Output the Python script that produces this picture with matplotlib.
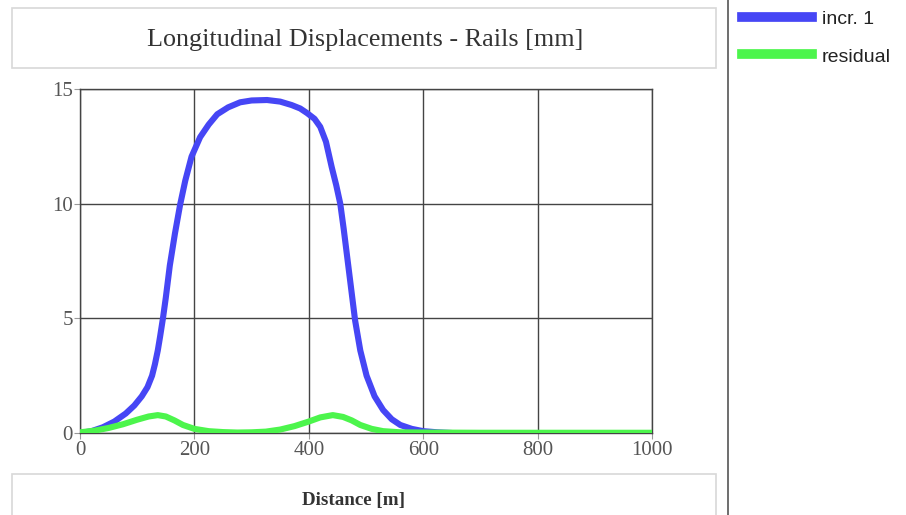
import matplotlib
matplotlib.use("Agg")
import matplotlib.pyplot as plt
from matplotlib.patches import Rectangle
from matplotlib.lines import Line2D

title = "Longitudinal Displacements - Rails [mm]"
xlabel = "Distance [m]"
series_names = ["incr. 1", "residual"]
x_ticks = [0, 200, 400, 600, 800, 1000]
y_ticks = [0, 5, 10, 15]

incr_x = [0, 20, 40, 60, 80, 95, 108, 118, 126, 131, 136, 140, 145, 150, 157, 166, 175, 184, 195,
          210, 225, 240, 259, 280, 300, 327, 350, 370, 385, 397, 410, 420, 430, 440, 448,
          455, 461, 467, 474, 481, 490, 501, 515, 530, 545, 560, 580, 600, 625, 650]
incr_y = [0, 0.08, 0.25, 0.5, 0.85, 1.2, 1.6, 2.0, 2.5, 3.0, 3.6, 4.2, 5.0, 5.9, 7.3, 8.7, 9.95, 11.0, 12.05,
          12.9, 13.45, 13.9, 14.2, 14.42, 14.5, 14.52, 14.45, 14.3, 14.15, 13.95, 13.7, 13.35, 12.7, 11.6, 10.8,
          10.0, 8.9, 7.7, 6.3, 4.9, 3.6, 2.5, 1.6, 1.0, 0.6, 0.35, 0.18, 0.08, 0.03, 0.0]

resid_x = [0, 25, 50, 75, 100, 120, 136, 150, 165, 180, 200, 225, 250, 275, 300, 325, 350,
           375, 400, 420, 442, 460, 475, 490, 510, 530, 560, 600, 700, 800, 900, 1000]
resid_y = [0.03, 0.1, 0.22, 0.38, 0.58, 0.72, 0.78, 0.72, 0.55, 0.35, 0.18, 0.08, 0.04, 0.02,
           0.03, 0.06, 0.15, 0.3, 0.5, 0.68, 0.78, 0.7, 0.55, 0.35, 0.18, 0.08, 0.03, 0.02,
           0.01, 0.01, 0.01, 0.01]

blue = "#4646f5"
green = "#4cf54c"

W, H = 906, 515
fig = plt.figure(figsize=(W / 100, H / 100), dpi=100)

def fx(px):
    return px / W

def fy(py):
    return 1 - py / H

# title box
fig.patches.append(Rectangle((fx(12), fy(68)), fx(716) - fx(12), fy(8) - fy(68),
                             transform=fig.transFigure, facecolor="white",
                             edgecolor="#d8d8d8", linewidth=1.2))
fig.text(fx(365), fy(40), title, ha="center", va="center",
         fontfamily="Liberation Serif", fontsize=18.8, color="#333333")

# x label box
fig.patches.append(Rectangle((fx(12), fy(520)), fx(716) - fx(12), fy(474) - fy(520),
                             transform=fig.transFigure, facecolor="white",
                             edgecolor="#d8d8d8", linewidth=1.2))
fig.text(fx(353), fy(501), xlabel, ha="center", va="center",
         fontfamily="Liberation Serif", fontsize=13.7, fontweight="bold", color="#333333")

# vertical divider
fig.lines.append(Line2D([fx(728), fx(728)], [0, 1], transform=fig.transFigure,
                        color="#555555", linewidth=1.2))

ax = fig.add_axes([fx(80), fy(433), fx(652) - fx(80), fy(89) - fy(433)])
ax.plot(incr_x, incr_y, color=blue, linewidth=4.4, solid_capstyle="round",
        solid_joinstyle="round", zorder=3)
ax.plot(resid_x, resid_y, color=green, linewidth=4.4, solid_capstyle="round",
        solid_joinstyle="round", zorder=4)
ax.set_xlim(0, 1000)
ax.set_ylim(0, 15)
ax.set_xticks(x_ticks)
ax.set_yticks(y_ticks)
ax.grid(True, color="#444444", linewidth=1.0)
ax.set_axisbelow(True)
for s in ax.spines.values():
    s.set_color("#444444")
    s.set_linewidth(1.0)
ax.tick_params(axis="both", length=4, color="#999999", labelsize=15, labelcolor="#555555")
for lab in ax.get_xticklabels() + ax.get_yticklabels():
    lab.set_fontfamily("Liberation Serif")
ax.tick_params(axis="x", pad=2)
ax.tick_params(axis="y", pad=1)

# legend
leg_items = [(17, 20, blue, series_names[0]), (54, 58, green, series_names[1])]
for py, ty, c, name in leg_items:
    fig.lines.append(Line2D([fx(742), fx(812)], [fy(py), fy(py)], transform=fig.transFigure,
                            color=c, linewidth=7))
    fig.text(fx(822), fy(ty), name, ha="left", va="center",
             fontfamily="Liberation Sans", fontsize=14, color="#222222")

fig.savefig("out.png", dpi=100)
